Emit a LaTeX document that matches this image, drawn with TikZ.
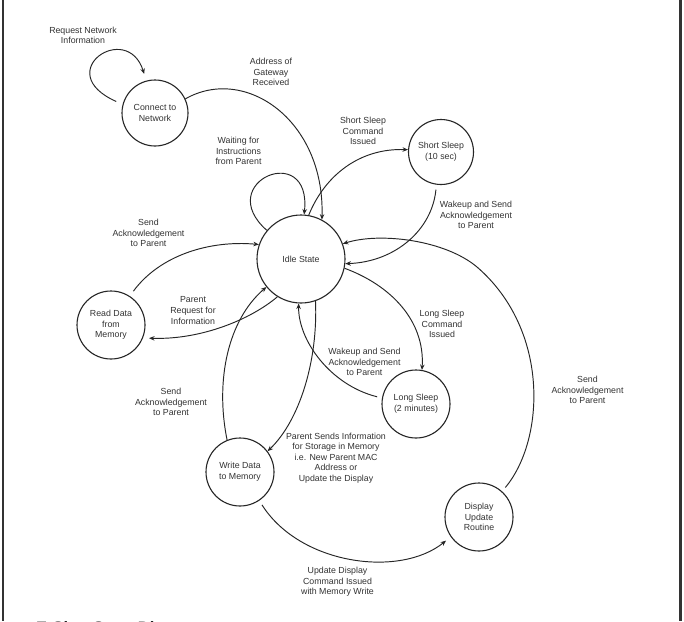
\documentclass[tikz,border=0pt]{standalone}
\usepackage{fontspec}
\setmainfont{Liberation Sans}
\usetikzlibrary{arrows.meta}
\begin{document}
\begin{tikzpicture}[x=1pt,y=-1pt,
  state/.style={circle,draw=black!85,line width=1.1pt,inner sep=0pt,align=center,
    font=\fontsize{8.8}{10.6}\selectfont,text=black!80},
  lbl/.style={align=center,font=\fontsize{8.8}{10.6}\selectfont,text=black!80,inner sep=0pt},
  tr/.style={draw=black!85,line width=0.95pt,-{Stealth[length=5.5pt,width=4.5pt]}},
  frameline/.style={draw=black!80,line width=2.2pt}]
\useasboundingbox (0,0) rectangle (684,621);
\clip (0,0) rectangle (684,621);
\fill[white] (0,0) rectangle (684,621);
\draw[frameline] (3,0) -- (3,621);
\draw[frameline] (680.5,0) -- (680.5,621);

% states
\node[state,minimum size=66pt] (connect) at (155,113) {Connect to\\Network};
\node[state,minimum size=88pt] (idle) at (301,259) {Idle State};
\node[state,minimum size=65pt] (short) at (441,152) {Short Sleep\\(10 sec)};
\node[state,minimum size=68pt] (read) at (111,325) {Read Data\\from\\Memory};
\node[state,minimum size=68pt] (long) at (416,404) {Long Sleep\\(2 minutes)};
\node[state,minimum size=68pt] (write) at (240,472) {Write Data\\to Memory};
\node[state,minimum size=68pt] (display) at (479,517) {Display\\Update\\Routine};

% labels
\node[lbl] (l1) at (83,35.5) {Request Network\\Information};
\node[lbl] (l2) at (271,72) {Address of\\Gateway\\Received};
\node[lbl] (l3) at (238.5,151) {Waiting for\\Instructions\\from Parent};
\node[lbl] (l4) at (363,131) {Short Sleep\\Command\\Issued};
\node[lbl] (l5) at (476,215) {Wakeup and Send\\Acknowledgement\\to Parent};
\node[lbl] (l6) at (148.5,233) {Send\\Acknowledgement\\to Parent};
\node[lbl] (l7) at (193,310.5) {Parent\\Request for\\Information};
\node[lbl] (l8) at (442,324) {Long Sleep\\Command\\Issued};
\node[lbl] (l9) at (364.5,362) {Wakeup and Send\\Acknowledgement\\to Parent};
\node[lbl] (l10) at (171,402) {Send\\Acknowledgement\\to Parent};
\node[lbl] (l11) at (336,458) {Parent Sends Information\\for Storage in Memory\\i.e. New Parent MAC\\Address or\\Update the Display};
\node[lbl] (l12) at (587.5,390) {Send\\Acknowledgement\\to Parent};
\node[lbl] (l13) at (337.5,582) {Update Display\\Command Issued\\with Memory Write};

% transitions
\draw[tr,shorten <=7pt,shorten >=7pt] (connect.165) .. controls (50,72) and (127,20) .. (connect.105);
\draw[tr] (connect.25) .. controls (245,65) and (325,120) .. (idle.62);
\draw[tr] (idle.140) .. controls (212,182) and (312,140) .. (idle.86);
\draw[tr] (idle.80) .. controls (325,175) and (360,148) .. (short.176);
\draw[tr,shorten <=5pt] (short.262) .. controls (432,230) and (395,262) .. (idle.-6);
\draw[tr,shorten <=5pt] (display.48) .. controls (545,440) and (550,330) .. (477,267)
   .. controls (445,240) and (380,232) .. (idle.20);
\draw[tr,shorten <=6pt] (read.57) .. controls (160,255) and (210,240) .. (idle.161);
\draw[tr,shorten >=6pt] (idle.238) .. controls (250,320) and (200,340) .. (read.-22);
\draw[tr] (idle.-12) .. controls (390,285) and (425,320) .. (long.80);
\draw[tr,shorten <=5pt] (long.170) .. controls (330,385) and (298,340) .. (idle.-93);
\draw[tr] (write.112) .. controls (215,380) and (228,320) .. (idle.219);
\draw[tr] (idle.-71) .. controls (318,360) and (300,420) .. (write.37);
\draw[tr,shorten <=5pt,shorten >=6pt] (write.-56) .. controls (300,565) and (400,578) .. (display.215);

% caption (cut off by the picture's lower edge, as in the reference)
\node[anchor=base west,inner sep=0pt,font=\fontsize{16.5}{20}\selectfont\bfseries,text=black!90] (title) at (36,633) {E-Sign State Diagram};
\end{tikzpicture}
\end{document}
